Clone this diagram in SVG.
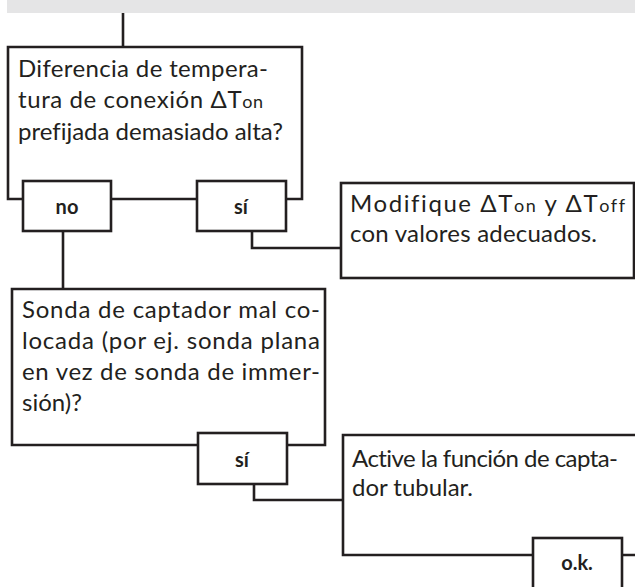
<svg xmlns="http://www.w3.org/2000/svg" width="635" height="587" viewBox="0 0 635 587">
<style>
.ln{fill:none;stroke:#231f20;stroke-width:2.6;stroke-linejoin:miter}
.lb{fill:#fff;stroke:#231f20;stroke-width:2.6}
.t{font-family:Lato,"Open Sans","DejaVu Sans",sans-serif;font-size:24px;fill:#231f20;font-variant-ligatures:none}
.s{font-size:18px}
.b{font-family:Lato,"Open Sans","DejaVu Sans",sans-serif;font-size:20px;font-weight:bold;fill:#231f20;text-anchor:middle}
</style>
<rect x="7" y="0" width="628" height="13" fill="#e5e5e6"/>
<g id="connectors">
<path class="ln" d="M123,13 V47"/>
<path class="ln" d="M63,231 V289"/>
<path class="ln" d="M252,231 V248 H341"/>
<path class="ln" d="M254,484 V500 H343"/>
</g>
<g id="q1">
<path class="ln" d="M23,199 H8 V47 H302 V199 H286 M111,199 H197"/>
<text class="t" x="18" y="77" textLength="250" lengthAdjust="spacing">Diferencia de tempera-</text>
<text class="t" x="18" y="108" textLength="245" lengthAdjust="spacing">tura de conexión ΔT<tspan class="s">on</tspan></text>
<text class="t" x="18" y="140" textLength="265" lengthAdjust="spacing">prefijada demasiado alta?</text>
</g>
<g id="no1">
<rect class="lb" x="23" y="181" width="88" height="50"/>
<text class="b" x="67" y="214">no</text>
</g>
<g id="si1">
<rect class="lb" x="197" y="181" width="89" height="50"/>
<text class="b" x="241" y="214">sí</text>
</g>
<g id="a1">
<rect class="ln" x="341" y="183" width="293" height="95"/>
<text class="t" x="350" y="212" textLength="275" lengthAdjust="spacing">Modifique ΔT<tspan class="s">on</tspan> y ΔT<tspan class="s">off</tspan></text>
<text class="t" x="350" y="242" textLength="247" lengthAdjust="spacing">con valores adecuados.</text>
</g>
<g id="q2">
<path class="ln" d="M198,445 H12 V289 H325 V445 H287"/>
<text class="t" x="22" y="318" textLength="298" lengthAdjust="spacing">Sonda de captador mal co-</text>
<text class="t" x="22" y="349" textLength="298" lengthAdjust="spacing">locada (por ej. sonda plana</text>
<text class="t" x="22" y="380" textLength="298" lengthAdjust="spacing">en vez de sonda de immer-</text>
<text class="t" x="22" y="411">sión)?</text>
</g>
<g id="si2">
<rect class="lb" x="198" y="433" width="89" height="51"/>
<text class="b" x="242" y="467">sí</text>
</g>
<g id="a2">
<path class="ln" d="M640,435 H343 V555 H533 M622,555 H640"/>
<text class="t" x="352" y="467" textLength="266" lengthAdjust="spacing">Active la función de capta-</text>
<text class="t" x="352" y="496" textLength="121" lengthAdjust="spacing">dor tubular.</text>
</g>
<g id="ok">
<rect class="lb" x="533" y="538" width="89" height="60"/>
<text class="b" x="577" y="570">o.k.</text>
</g>
</svg>
